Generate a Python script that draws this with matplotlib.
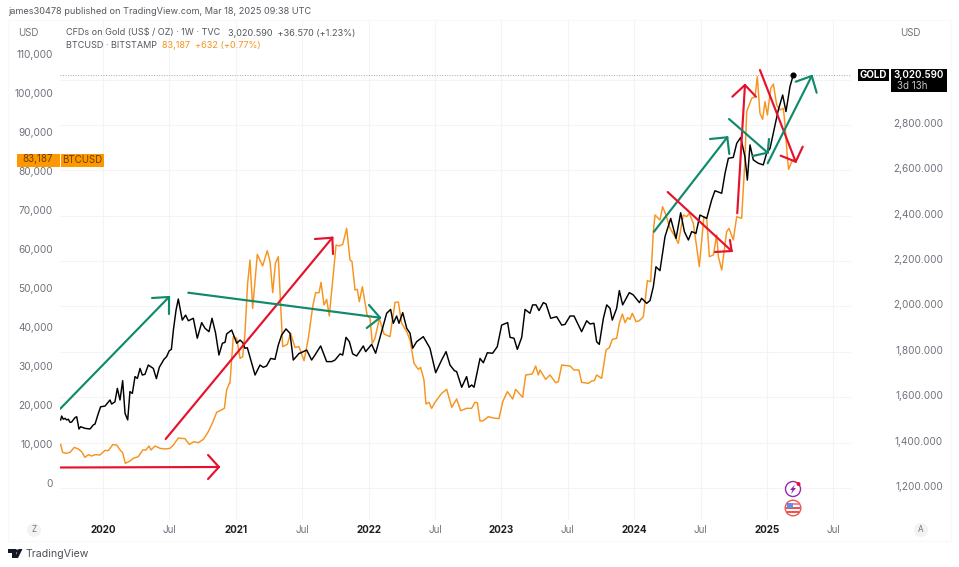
import matplotlib
matplotlib.use("Agg")
import matplotlib.pyplot as plt
from matplotlib.patches import Rectangle, Circle, Polygon
from matplotlib.transforms import IdentityTransform

plt.rcParams['font.family'] = ['Inter', 'DejaVu Sans']

# ---------- data (decimal year, price) ----------
gold_years = [2019.681,2019.689,2019.701,2019.714,2019.726,2019.739,2019.752,2019.764,2019.789,2019.802,2019.819,2019.832,2019.864,2019.902,
2019.927,2019.940,2019.965,2019.982,2020.015,2020.053,2020.065,2020.090,2020.108,2020.128,2020.148,2020.166,2020.186,2020.203,
2020.221,2020.241,2020.259,2020.279,2020.296,2020.316,2020.341,2020.379,2020.402,2020.424,2020.459,2020.479,2020.499,2020.515,
2020.530,2020.550,2020.567,2020.580,2020.597,2020.622,2020.643,2020.680,2020.710,2020.743,2020.768,2020.798,2020.821,2020.848,
2020.873,2020.899,2020.919,2020.931,2020.969,2021.007,2021.032,2021.052,2021.069,2021.087,2021.145,2021.182,2021.207,2021.232,
2021.263,2021.295,2021.320,2021.345,2021.378,2021.408,2021.433,2021.478,2021.483,2021.534,2021.571,2021.596,2021.639,2021.684,
2021.722,2021.747,2021.785,2021.805,2021.830,2021.855,2021.880,2021.910,2021.960,2021.978,2022.023,2022.053,2022.098,2022.136,
2022.166,2022.186,2022.211,2022.229,2022.257,2022.287,2022.312,2022.332,2022.362,2022.412,2022.462,2022.505,2022.550,2022.583,
2022.613,2022.646,2022.663,2022.701,2022.738,2022.756,2022.776,2022.794,2022.839,2022.864,2022.894,2022.934,2022.969,2023.002,
2023.047,2023.065,2023.095,2023.120,2023.153,2023.178,2023.215,2023.235,2023.261,2023.283,2023.316,2023.336,2023.371,2023.416,
2023.454,2023.479,2023.517,2023.547,2023.604,2023.642,2023.667,2023.697,2023.717,2023.737,2023.768,2023.793,2023.818,2023.835,
2023.868,2023.888,2023.913,2023.963,2023.993,2024.039,2024.056,2024.094,2024.119,2024.144,2024.164,2024.194,2024.232,2024.275,
2024.315,2024.350,2024.378,2024.408,2024.433,2024.465,2024.495,2024.546,2024.583,2024.608,2024.659,2024.684,2024.709,2024.746,
2024.772,2024.802,2024.834,2024.852,2024.872,2024.897,2024.935,2024.972,2024.997,2025.023,2025.053,2025.085,2025.118,2025.143,
2025.173,2025.198]
gold_prices = [1500,1517,1503,1507,1500,1503,1489,1491,1510,1514,1460,1470,1463,1460,
1478,1482,1529,1558,1561,1588,1570,1580,1639,1588,1673,1529,1500,1625,
1617,1691,1683,1727,1698,1701,1742,1727,1682,1732,1767,1779,1805,1811,
1896,1984,2033,1992,1940,1962,1937,1948,1860,1929,1904,1889,1948,1882,
1786,1838,1842,1879,1896,1838,1852,1841,1816,1818,1698,1742,1732,1738,
1771,1767,1830,1874,1901,1882,1764,1794,1794,1808,1764,1786,1826,1757,
1757,1764,1791,1786,1864,1845,1791,1782,1826,1801,1833,1794,1889,1970,
1987,1926,1958,1926,1973,1904,1882,1816,1845,1867,1816,1708,1764,1801,
1742,1717,1713,1644,1691,1644,1654,1644,1771,1752,1796,1794,1823,1918,
1929,1864,1860,1811,1864,1987,1970,2007,2007,1982,2017,2011,1948,1955,
1918,1921,1958,1958,1889,1937,1923,1926,1845,1833,1948,2007,1992,1940,
1992,2070,2007,2061,2051,2017,2036,2014,2026,2087,2175,2158,2308,2388,
2300,2413,2330,2293,2330,2322,2403,2388,2469,2510,2499,2587,2653,2657,
2719,2745,2660,2557,2712,2646,2631,2624,2675,2697,2778,2866,2932,2859,
2969,3020.59]

btc_years = [2019.681,2019.696,2019.721,2019.752,2019.784,2019.814,2019.839,2019.864,2019.890,2019.915,2019.940,2019.977,
2020.015,2020.040,2020.073,2020.103,2020.128,2020.148,2020.168,2020.203,2020.228,2020.266,2020.299,2020.324,2020.346,2020.361,
2020.392,2020.429,2020.467,2020.505,2020.530,2020.567,2020.617,2020.650,2020.685,2020.718,2020.756,2020.793,2020.823,
2020.856,2020.881,2020.914,2020.931,2020.951,2020.956,2020.981,2021.007,2021.032,2021.052,2021.069,2021.089,2021.107,
2021.127,2021.162,2021.202,2021.237,2021.258,2021.278,2021.298,2021.320,2021.353,2021.388,2021.413,2021.446,2021.476,
2021.514,2021.546,2021.579,2021.601,2021.627,2021.642,2021.664,2021.684,2021.704,2021.755,2021.780,2021.805,2021.835,
2021.860,2021.875,2021.898,2021.915,2021.930,2021.953,2021.990,2022.011,2022.028,2022.048,2022.081,2022.116,2022.161,
2022.199,2022.224,2022.249,2022.287,2022.312,2022.342,2022.374,2022.392,2022.417,2022.432,2022.455,2022.475,2022.500,
2022.550,2022.588,2022.626,2022.663,2022.693,2022.738,2022.776,2022.801,2022.819,2022.839,2022.864,2022.902,2022.939,
2022.982,2023.010,2023.045,2023.085,2023.107,2023.160,2023.183,2023.233,2023.258,2023.278,2023.291,2023.333,2023.366,
2023.409,2023.429,2023.454,2023.517,2023.547,2023.584,2023.604,2023.655,2023.680,2023.700,2023.717,2023.755,2023.788,
2023.813,2023.835,2023.868,2023.888,2023.911,2023.931,2023.951,2023.968,2023.986,2024.014,2024.039,2024.069,2024.099,
2024.124,2024.144,2024.157,2024.194,2024.214,2024.239,2024.270,2024.307,2024.332,2024.370,2024.395,2024.415,2024.445,
2024.470,2024.490,2024.525,2024.546,2024.566,2024.596,2024.621,2024.634,2024.659,2024.696,2024.714,2024.746,2024.772,
2024.809,2024.834,2024.847,2024.885,2024.910,2024.927,2024.947,2024.967,2024.985,2025.003,2025.028,2025.048,
2025.073,2025.098,2025.123,2025.136,2025.153,2025.163,2025.186,2025.198]
btc_prices = [10170,8120,7860,8120,9400,8970,8290,6840,7520,7180,7520,7440,
8630,8550,10090,10000,8720,8030,5300,5900,6580,7010,8720,8720,9740,8720,
9740,9150,8970,9150,10000,11790,11620,10170,10850,10600,11450,13420,15560,
18380,18800,19400,24100,25810,25810,37780,37350,32220,32650,38630,51450,57440,
45040,58890,55900,59830,57010,49060,56580,58290,35210,35810,38630,35040,35210,
31620,37350,45470,49060,49060,51710,45900,47350,43080,61280,61030,61450,65560,
57440,57010,49740,49910,46750,50600,43080,42480,36070,37350,42480,38460,37780,
46580,46670,41200,39060,36900,30940,29400,29910,26670,20510,20940,19400,20940,
23250,24270,19660,21790,18800,19400,19400,20940,20850,16150,16240,17260,16920,
16750,21110,23680,21790,24270,22220,27950,28210,30260,27950,29230,26840,27950,
25980,26240,30510,30260,29230,29230,26070,25810,26410,26500,27950,27090,34360,
34960,37090,37350,41200,43590,41370,42650,42220,43760,41620,41880,42910,52140,
51880,64700,68970,67690,71110,68970,65560,63430,61710,68970,68550,69400,66840,
60850,55730,68550,68120,58290,58720,63850,58290,54870,64700,65560,62560,68550,
68120,83080,95470,98890,99320,104440,95040,93500,98030,94620,101450,102560,
97180,95900,96320,92050,83930,80680,82650,83187]

# hand-drawn arrows: tail, tip, two head arms, as (year, BTC)
arrow_colors = ['g','r','r','g','g','r','r','g','r','g']
arrow_tails = [(2019.676,19230),(2019.676,4230),(2020.472,11540),(2020.642,49050),(2024.149,64690),
               (2024.252,74870),(2024.776,69410),(2024.714,93590),(2024.947,106150),(2025.005,82230)]
arrow_tips = [(2020.497,47950),(2020.873,4360),(2021.727,63150),(2022.086,42640),(2024.701,88900),
              (2024.734,59740),(2024.834,102310),(2025.005,84950),(2025.216,82640),(2025.337,104620)]
arrow_arm_a = [(2020.369,47690),(2020.791,7440),(2021.596,62820),(2022.003,45900),(2024.571,88460),
               (2024.608,59490),(2024.739,99310),(2024.892,84100),(2025.103,84180),(2025.216,103150)]
arrow_arm_b = [(2020.497,43590),(2020.791,1280),(2021.732,58970),(2021.986,40000),(2024.716,84620),
               (2024.721,62560),(2024.917,99310),(2025.015,88460),(2025.269,86490),(2025.374,100330)]

btc_ticks = [0,10000,20000,30000,40000,50000,60000,70000,80000,90000,100000,110000]
gold_ticks = [1200,1400,1600,1800,2000,2200,2400,2600,2800]
gold_grid = [1200,1400,1600,1800,2000,2200,2400,2600,2800,3000]
x_ticks = [2020,2020.5,2021,2021.5,2022,2022.5,2023,2023.5,2024,2024.5,2025,2025.5]
x_labels = ['2020','Jul','2021','Jul','2022','Jul','2023','Jul','2024','Jul','2025','Jul']

# ---------- layout ----------
W, H = 959, 567
GREEN, RED, ORANGE = '#0f8a6c', '#e5122d', '#f7941d'
GREY, DARK = '#6f727c', '#55585f'
GRID = '#f3f4f6'
fx = lambda x: x / W
fy = lambda y: 1 - y / H

fig = plt.figure(figsize=(W / 100, H / 100), dpi=100, facecolor='white')
L, R, T, B = 60, 851, 20, 520
ax = fig.add_axes([fx(L), fy(B), (R - L) / W, (B - T) / H])
ax.set_xlim(2020 + (L - 103) / 132.8, 2020 + (R - 103) / 132.8)
ax.set_ylim((484 - B) / 0.0039, (484 - T) / 0.0039)
ax2 = ax.twinx()
ax2.set_ylim(1200 + (488 - B) / 0.2269, 1200 + (488 - T) / 0.2269)
ax2.patch.set_visible(False)
for a in (ax, ax2):
    for s in a.spines.values():
        s.set_visible(False)
    a.tick_params(length=0)
    a.set_axisbelow(True)

ax.set_xticks(x_ticks)
ax.set_xticklabels(x_labels)
ax.tick_params(axis='x', labelbottom=False)
ax.grid(axis='x', color=GRID, lw=0.8)
ax.set_yticks([])
ax2.set_yticks([])
for yt in gold_grid:
    ax.axhline((484 - (488 - (yt - 1200) * 0.2269)) / 0.0039, color=GRID, lw=0.8, zorder=0)

# outer pane frame
fig.add_artist(Rectangle((fx(8), fy(541)), 943 / W, 521 / H, fill=False, ec='#f9f9fa', lw=0.8))

ax2.axhline(3020.59, color='#a4a6ad', lw=0.7, ls=(0, (1, 1.6)), zorder=1)
ax.plot(btc_years, btc_prices, color=ORANGE, lw=1.05, solid_joinstyle='round', zorder=3)
ax2.plot(gold_years, gold_prices, color='black', lw=1.05, solid_joinstyle='round', zorder=3)
ax2.plot(gold_years[-1], gold_prices[-1], 'o', color='black', ms=3.4, zorder=4)

for c, t0, t1, aa, ab in zip(arrow_colors, arrow_tails, arrow_tips, arrow_arm_a, arrow_arm_b):
    col = GREEN if c == 'g' else RED
    for p in (t0, aa, ab):
        ax2.add_line(plt.Line2D([p[0], t1[0]], [p[1], t1[1]], color=col, lw=1.55,
                                solid_capstyle='round', transform=ax.transData, zorder=5))

# ---------- text and shape helpers ----------
def txt(x, y, s, **k):
    k.setdefault('va', 'center')
    k.setdefault('fontsize', 6.9)
    k.setdefault('color', GREY)
    return fig.text(fx(x), fy(y), s, **k)

def pcircle(cx, cy, r, **k):
    fig.add_artist(Circle((cx, H - cy), r, transform=IdentityTransform(), **k))

def ppoly(pts, **k):
    fig.add_artist(Polygon([(x, H - y) for x, y in pts], closed=True, transform=IdentityTransform(), **k))

# ---------- axis labels ----------
for v in btc_ticks:
    txt(53, 484 - v * 0.0039, f'{v:,}', ha='right', fontsize=7.3)
for v in gold_ticks:
    txt(943, 488 - (v - 1200) * 0.2269 - 1, f'{v:,}.000', ha='right', fontsize=7.2)
for xt, lb in zip(x_ticks, x_labels):
    px = 103 + (xt - 2020) * 132.8
    if lb == 'Jul':
        txt(px, 530, lb, ha='center', fontsize=7)
    else:
        txt(px, 530, lb, ha='center', fontsize=7.1, color='#1c1e24', fontweight='bold')

txt(18, 33.5, 'USD', ha='left', fontsize=7)
txt(900, 33.5, 'USD', ha='left', fontsize=7)

# ---------- header ----------
txt(8, 12, 'james30478 published on TradingView.com, Mar 18, 2025 09:38 UTC', ha='left', fontsize=6.6, color=DARK)
txt(66, 33, 'CFDs on Gold (US$ / OZ) · 1W · TVC', ha='left', fontsize=6.55, color=DARK)
txt(228, 33, '3,020.590  +36.570 (+1.23%)', ha='left', fontsize=6.55, color=DARK)
txt(66, 46, 'BTCUSD · BITSTAMP', ha='left', fontsize=6.55, color=DARK)
txt(162, 46, '83,187  +632 (+0.77%)', ha='left', fontsize=6.55, color=ORANGE)

# ---------- price tags ----------
def box(x0, y0, x1, y1, col):
    fig.add_artist(Rectangle((fx(x0), fy(y1)), (x1 - x0) / W, (y1 - y0) / H, fc=col, ec='none', zorder=6))

box(17, 153.5, 59.5, 166.5, '#ff9800')
box(60.5, 153.5, 104, 166.5, '#ff9800')
txt(38, 159.5, '83,187', ha='center', fontsize=7, color='#6b4200', zorder=7)
txt(82, 160, 'BTCUSD', ha='center', fontsize=7, color='#6b4200', zorder=7)
box(858, 69, 889, 81, 'black')
box(891, 69, 947, 92, 'black')
txt(873.5, 75, 'GOLD', ha='center', fontsize=7, color='white', fontweight='bold', zorder=7)
txt(919, 75, '3,020.590', ha='center', fontsize=7.1, color='white', fontweight='semibold', zorder=7)
txt(897, 86, '3d 13h', ha='left', fontsize=7, color='#c8c8cc', zorder=7)

# ---------- round buttons ----------
for cx, s in ((34, 'Z'), (921, 'A')):
    pcircle(cx, 530, 7, fc='#f3f3f4', ec='none', zorder=1)
    txt(cx, 530, s, ha='center', fontsize=5.8, zorder=2)

# event icons
pcircle(793, 489, 7.5, fc='white', ec='#9c27b0', lw=1.0, zorder=6)
ppoly([(795, 484.5), (790, 490), (792.5, 490), (791, 494), (796, 488), (793.5, 488)], fc='#8e24aa', ec='none', zorder=7)
pcircle(798.5, 484, 2, fc='#e5122d', ec='none', zorder=8)
pcircle(793, 508, 7.8, fc='white', ec='#ef5350', lw=1.0, zorder=6)
ppoly([(787, 503), (799, 503), (799, 505), (787, 505)], fc='#f28b8b', ec='none', zorder=7)
ppoly([(786, 507), (800, 507), (800, 509), (786, 509)], fc='#ef5350', ec='none', zorder=7)
ppoly([(787, 511), (799, 511), (799, 513), (787, 513)], fc='#ef5350', ec='none', zorder=7)
ppoly([(787, 503), (793, 503), (793, 508), (787, 508)], fc='#5c8fe6', ec='none', zorder=8)

# TradingView logo
ppoly([(8, 549), (16, 549), (16, 558), (12, 558), (12, 553), (8, 553)], fc='#131722', ec='none')
ppoly([(18.5, 549), (22.5, 549), (18, 558), (14.5, 558)], fc='#131722', ec='none')
pcircle(16.7, 551, 1.6, fc='#131722', ec='none')
txt(26, 554, 'TradingView', ha='left', fontsize=7.6, color='#4c4f57')

fig.savefig('out.png', dpi=100, facecolor='white')
